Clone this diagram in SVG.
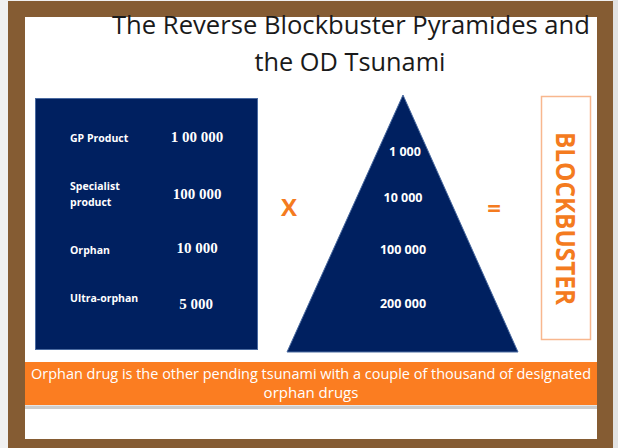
<svg xmlns="http://www.w3.org/2000/svg" width="618" height="448" viewBox="0 0 618 448">
  <style>
    .title { font-family: "Open Sans", "Liberation Sans", sans-serif; font-size: 25px; fill: #1a1a1a; }
    .lbl { font-family: "Open Sans", "Liberation Sans", sans-serif; font-size: 10.5px; font-weight: bold; fill: #ffffff; }
    .val { font-family: "Liberation Serif", serif; font-size: 15px; font-weight: bold; fill: #ffffff; }
    .tri { font-family: "Open Sans", "Liberation Sans", sans-serif; font-size: 12.5px; font-weight: bold; fill: #ffffff; }
    .op { font-family: "Open Sans", "Liberation Sans", sans-serif; font-size: 24px; font-weight: bold; fill: #f47b20; }
    .band { font-family: "Open Sans", "Liberation Sans", sans-serif; font-size: 15px; fill: #ffffff; }
    .navy { fill: #002060; stroke: #4a6aa0; stroke-width: 1; }
  </style>
  <!-- background & frame -->
  <rect x="0" y="0" width="618" height="448" fill="#f0f0f0"/>
  <rect x="612" y="0" width="6" height="448" fill="#e2e2e2"/>
  <rect x="8" y="1" width="605" height="447" fill="#855c33"/>
  <rect x="25" y="17" width="572" height="422" fill="#ffffff"/>

  <g id="title">
    <text class="title" x="351" y="34" text-anchor="middle" textLength="478" lengthAdjust="spacingAndGlyphs">The Reverse Blockbuster Pyramides and</text>
    <text class="title" x="350" y="71" text-anchor="middle" textLength="191" lengthAdjust="spacingAndGlyphs">the OD Tsunami</text>
  </g>

  <g id="table">
    <rect class="navy" x="35.5" y="98.5" width="222" height="251"/>
    <text class="lbl" x="70" y="142">GP Product</text>
    <text class="val" x="197" y="142" text-anchor="middle">1 00 000</text>
    <text class="lbl" x="70" y="190">Specialist</text>
    <text class="lbl" x="70" y="206">product</text>
    <text class="val" x="197" y="199" text-anchor="middle">100 000</text>
    <text class="lbl" x="70" y="254">Orphan</text>
    <text class="val" x="197" y="253" text-anchor="middle">10 000</text>
    <text class="lbl" x="70" y="302">Ultra-orphan</text>
    <text class="val" x="196" y="309" text-anchor="middle">5 000</text>
  </g>

  <g id="times">
    <text class="op" x="289" y="216" text-anchor="middle">X</text>
  </g>

  <g id="pyramid">
    <polygon class="navy" points="403,95 518,352 287,352"/>
    <text class="tri" x="405" y="156" text-anchor="middle">1 000</text>
    <text class="tri" x="403" y="202" text-anchor="middle">10 000</text>
    <text class="tri" x="403" y="254" text-anchor="middle">100 000</text>
    <text class="tri" x="403" y="308" text-anchor="middle">200 000</text>
  </g>

  <g id="equals">
    <text class="op" x="494" y="217" text-anchor="middle">=</text>
  </g>

  <g id="blockbuster">
    <rect x="541.5" y="96.5" width="49" height="243" fill="#ffffff" stroke="#f8b78e" stroke-width="1.5"/>
    <text transform="translate(556,218.5) rotate(90)" text-anchor="middle" textLength="173" lengthAdjust="spacingAndGlyphs" font-family="Open Sans, Liberation Sans, sans-serif" font-size="26" font-weight="bold" fill="#f47b20">BLOCKBUSTER</text>
  </g>

  <g id="banner">
    <rect x="25" y="362" width="572" height="43" fill="#fb7d21"/>
    <rect x="25" y="405.5" width="572" height="3.5" fill="#cdcdcd"/>
    <text class="band" x="311" y="379" text-anchor="middle" textLength="560" lengthAdjust="spacingAndGlyphs">Orphan drug is the other pending tsunami with a couple of thousand of designated</text>
    <text class="band" x="311" y="398" text-anchor="middle">orphan drugs</text>
  </g>

  <g id="connectors"></g>
</svg>
